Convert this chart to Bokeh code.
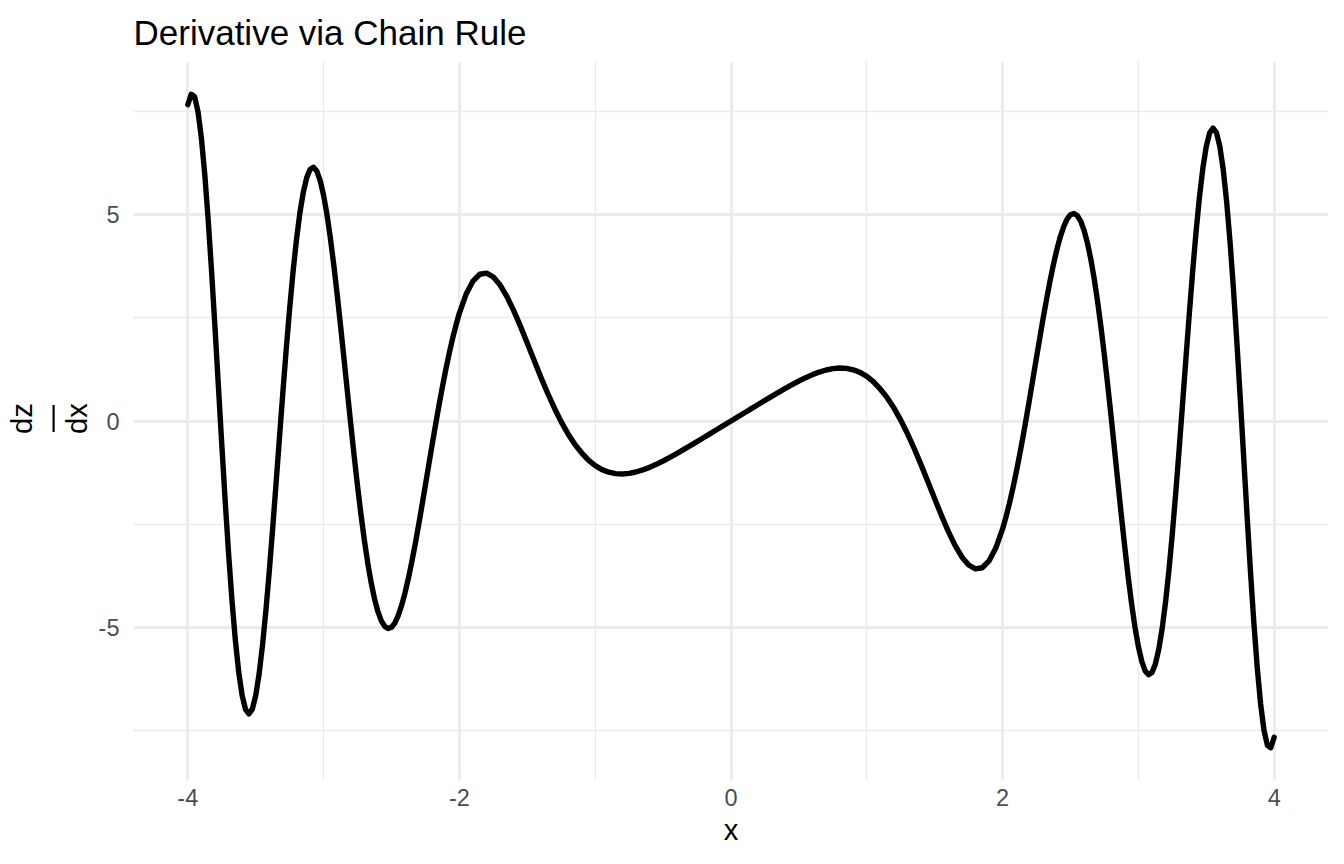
from math import pi
from bokeh.plotting import figure
from bokeh.layouts import row
from bokeh.models import Range1d, FixedTicker, Label, BoxAnnotation
from bokeh.embed import file_html
from bokeh.resources import INLINE

# ---- data ----
x_values = [
    -4.0, -3.975, -3.95, -3.925, -3.9, -3.875, -3.85, -3.825, -3.8, -3.775,
    -3.75, -3.725, -3.7, -3.675, -3.65, -3.625, -3.6, -3.575, -3.55, -3.525,
    -3.5, -3.475, -3.45, -3.425, -3.4, -3.375, -3.35, -3.325, -3.3, -3.275,
    -3.25, -3.225, -3.2, -3.175, -3.15, -3.125, -3.1, -3.075, -3.05, -3.025,
    -3.0, -2.975, -2.95, -2.925, -2.9, -2.875, -2.85, -2.825, -2.8, -2.775,
    -2.75, -2.725, -2.7, -2.675, -2.65, -2.625, -2.6, -2.575, -2.55, -2.525,
    -2.5, -2.475, -2.45, -2.425, -2.4, -2.375, -2.35, -2.325, -2.3, -2.275,
    -2.25, -2.225, -2.2, -2.175, -2.15, -2.125, -2.1, -2.075, -2.05, -2.025,
    -2.0, -1.95, -1.9, -1.85, -1.8, -1.75, -1.7, -1.65, -1.6, -1.55,
    -1.5, -1.45, -1.4, -1.35, -1.3, -1.25, -1.2, -1.15, -1.1, -1.05,
    -1.0, -0.95, -0.9, -0.85, -0.8, -0.75, -0.7, -0.65, -0.6, -0.55,
    -0.5, -0.45, -0.4, -0.35, -0.3, -0.25, -0.2, -0.15, -0.1, -0.05,
    0.0,
    0.05, 0.1, 0.15, 0.2, 0.25, 0.3, 0.35, 0.4, 0.45, 0.5,
    0.55, 0.6, 0.65, 0.7, 0.75, 0.8, 0.85, 0.9, 0.95, 1.0,
    1.05, 1.1, 1.15, 1.2, 1.25, 1.3, 1.35, 1.4, 1.45, 1.5,
    1.55, 1.6, 1.65, 1.7, 1.75, 1.8, 1.85, 1.9, 1.95, 2.0,
    2.025, 2.05, 2.075, 2.1, 2.125, 2.15, 2.175, 2.2, 2.225, 2.25,
    2.275, 2.3, 2.325, 2.35, 2.375, 2.4, 2.425, 2.45, 2.475, 2.5,
    2.525, 2.55, 2.575, 2.6, 2.625, 2.65, 2.675, 2.7, 2.725, 2.75,
    2.775, 2.8, 2.825, 2.85, 2.875, 2.9, 2.925, 2.95, 2.975, 3.0,
    3.025, 3.05, 3.075, 3.1, 3.125, 3.15, 3.175, 3.2, 3.225, 3.25,
    3.275, 3.3, 3.325, 3.35, 3.375, 3.4, 3.425, 3.45, 3.475, 3.5,
    3.525, 3.55, 3.575, 3.6, 3.625, 3.65, 3.675, 3.7, 3.725, 3.75,
    3.775, 3.8, 3.825, 3.85, 3.875, 3.9, 3.925, 3.95, 3.975, 4.0,
]

dzdx_values = [
    7.6613, 7.9159, 7.8561, 7.4939, 6.8528, 5.9656, 4.8736, 3.6236, 2.2665, 0.8547,
    -0.5595, -1.9263, -3.1998, -4.3394, -5.3108, -6.0871, -6.6493, -6.9865, -7.0954, -6.9803,
    -6.6526, -6.1298, -5.4345, -4.5938, -3.6375, -2.5978, -1.5074, -0.3991, 0.6955, 1.7468,
    2.7278, 3.6150, 4.3885, 5.0326, 5.5356, 5.8904, 6.0940, 6.1471, 6.0544, 5.8241,
    5.4668, 4.9959, 4.4268, 3.7756, 3.0613, 2.3007, 1.5122, 0.7137, -0.0783, -0.8478,
    -1.5805, -2.2638, -2.8866, -3.4395, -3.9163, -4.3108, -4.6200, -4.8423, -4.9779, -5.0284,
    -4.9972, -4.8887, -4.7083, -4.4623, -4.1579, -3.8027, -3.4045, -2.9715, -2.5117, -2.0332,
    -1.5435, -1.0502, -0.5600, -0.0793, 0.3860, 0.8309, 1.2508, 1.6419, 2.0011, 2.3247,
    2.6146, 3.0789, 3.3907, 3.5550, 3.5826, 3.4890, 3.2930, 3.0144, 2.6736, 2.2913,
    1.8845, 1.4703, 1.0625, 0.6724, 0.3092, -0.0207, -0.3130, -0.5652, -0.7705, -0.9482,
    -1.0806, -1.1777, -1.2411, -1.2753, -1.2834, -1.2689, -1.2353, -1.1857, -1.1231, -1.0500,
    -0.9689, -0.8816, -0.7898, -0.6948, -0.5976, -0.4990, -0.3994, -0.2999, -0.2000, -0.1000,
    0.0,
    0.1000, 0.2000, 0.2999, 0.3994, 0.4990, 0.5976, 0.6948, 0.7898, 0.8816, 0.9689,
    1.0500, 1.1231, 1.1857, 1.2353, 1.2689, 1.2834, 1.2753, 1.2411, 1.1777, 1.0806,
    0.9482, 0.7705, 0.5652, 0.3130, 0.0207, -0.3092, -0.6724, -1.0625, -1.4703, -1.8845,
    -2.2913, -2.6736, -3.0144, -3.2930, -3.4890, -3.5826, -3.5550, -3.3907, -3.0789, -2.6146,
    -2.3247, -2.0011, -1.6419, -1.2508, -0.8309, -0.3860, 0.0793, 0.5600, 1.0502, 1.5435,
    2.0332, 2.5117, 2.9715, 3.4045, 3.8027, 4.1579, 4.4623, 4.7083, 4.8887, 4.9972,
    5.0284, 4.9779, 4.8423, 4.6200, 4.3108, 3.9163, 3.4395, 2.8866, 2.2638, 1.5805,
    0.8478, 0.0783, -0.7137, -1.5122, -2.3007, -3.0613, -3.7756, -4.4268, -4.9959, -5.4668,
    -5.8241, -6.0544, -6.1471, -6.0940, -5.8904, -5.5356, -5.0326, -4.3885, -3.6150, -2.7278,
    -1.7468, -0.6955, 0.3991, 1.5074, 2.5978, 3.6375, 4.5938, 5.4345, 6.1298, 6.6526,
    6.9803, 7.0954, 6.9865, 6.6493, 6.0871, 5.3108, 4.3394, 3.1998, 1.9263, 0.5595,
    -0.8547, -2.2665, -3.6236, -4.8736, -5.9656, -6.8528, -7.4939, -7.8561, -7.9159, -7.6613,
]

x_ticks = [-4, -2, 0, 2, 4]
x_minor_ticks = [-3, -1, 1, 3]
y_ticks = [-5, 0, 5]
y_minor_ticks = [-7.5, -2.5, 2.5, 7.5]

title_text = "Derivative via Chain Rule"
x_title = "x"
y_numerator = "dz"
y_denominator = "dx"

FONT = "Liberation Sans"
GRID = "#EBEBEB"
TICK_COLOR = "#4D4D4D"
TOTAL_W, TOTAL_H = 1328, 848
LEFT_W = 92

# ---- narrow strip holding the stacked (fraction) y-axis title ----
# coordinates in this strip are pixels, measured up from its bottom edge
ylab = figure(
    width=LEFT_W, height=TOTAL_H, output_backend="svg", toolbar_location=None,
    x_range=Range1d(0, LEFT_W), y_range=Range1d(0, TOTAL_H),
    x_axis_location=None, y_axis_location=None,
    min_border=0, min_border_left=0, min_border_right=0,
    min_border_top=0, min_border_bottom=0,
    background_fill_color="white", border_fill_color="white",
)
ylab.outline_line_color = None
ylab.xgrid.visible = False
ylab.ygrid.visible = False
mid = TOTAL_H - 421
ylab.add_layout(Label(x=21, y=mid, text=y_numerator, angle=pi / 2,
                      text_align="center", text_baseline="middle",
                      text_font=FONT, text_font_size="29.3px", text_color="black"))
ylab.add_layout(Label(x=76, y=mid, text=y_denominator, angle=pi / 2,
                      text_align="center", text_baseline="middle",
                      text_font=FONT, text_font_size="29.3px", text_color="black"))
ylab.add_layout(BoxAnnotation(left=52, right=54.2, bottom=mid - 16, top=mid + 16,
                              fill_color="black", fill_alpha=1.0, line_color=None))

# ---- main plot ----
p = figure(
    width=TOTAL_W - LEFT_W, height=TOTAL_H,
    output_backend="svg", toolbar_location=None,
    x_range=Range1d(-4.4, 4.4), y_range=Range1d(-8.71, 8.71),
    min_border_left=133 - LEFT_W, min_border_right=0,
    min_border_top=60, min_border_bottom=66,
    background_fill_color="white", border_fill_color="white",
)
p.outline_line_color = None

p.title.text = title_text
p.title.text_font = FONT
p.title.text_font_size = "35px"
p.title.text_font_style = "normal"
p.title.text_color = "black"
p.title.align = "left"
p.title.standoff = 20

p.xgrid.ticker = FixedTicker(ticks=x_ticks, minor_ticks=x_minor_ticks)
p.ygrid.ticker = FixedTicker(ticks=y_ticks, minor_ticks=y_minor_ticks)
for g in (p.xgrid, p.ygrid):
    g.grid_line_color = GRID
    g.grid_line_width = 2.8
    g.minor_grid_line_color = GRID
    g.minor_grid_line_width = 1.4

p.xaxis.ticker = FixedTicker(ticks=x_ticks)
p.yaxis.ticker = FixedTicker(ticks=y_ticks)
p.xaxis.major_label_overrides = {t: str(t) for t in x_ticks}
p.yaxis.major_label_overrides = {t: str(t) for t in y_ticks}
for ax in (p.xaxis, p.yaxis):
    ax.axis_line_color = None
    ax.major_tick_line_color = None
    ax.minor_tick_line_color = None
    ax.major_tick_out = 0
    ax.major_tick_in = 0
    ax.minor_tick_out = 0
    ax.minor_tick_in = 0
    ax.major_label_text_font = FONT
    ax.major_label_text_font_size = "23.5px"
    ax.major_label_text_color = TICK_COLOR
p.xaxis.major_label_standoff = 8
p.yaxis.major_label_standoff = 14

p.xaxis.axis_label = x_title
p.xaxis.axis_label_standoff = 4
p.xaxis.axis_label_text_font = FONT
p.xaxis.axis_label_text_font_size = "29.3px"
p.xaxis.axis_label_text_font_style = "normal"
p.xaxis.axis_label_text_color = "black"

p.line(x_values, dzdx_values, line_color="black", line_width=5.4,
       line_join="round", line_cap="round")

layout = row(ylab, p, spacing=0)
open("out.html", "w").write(file_html(layout, INLINE))
